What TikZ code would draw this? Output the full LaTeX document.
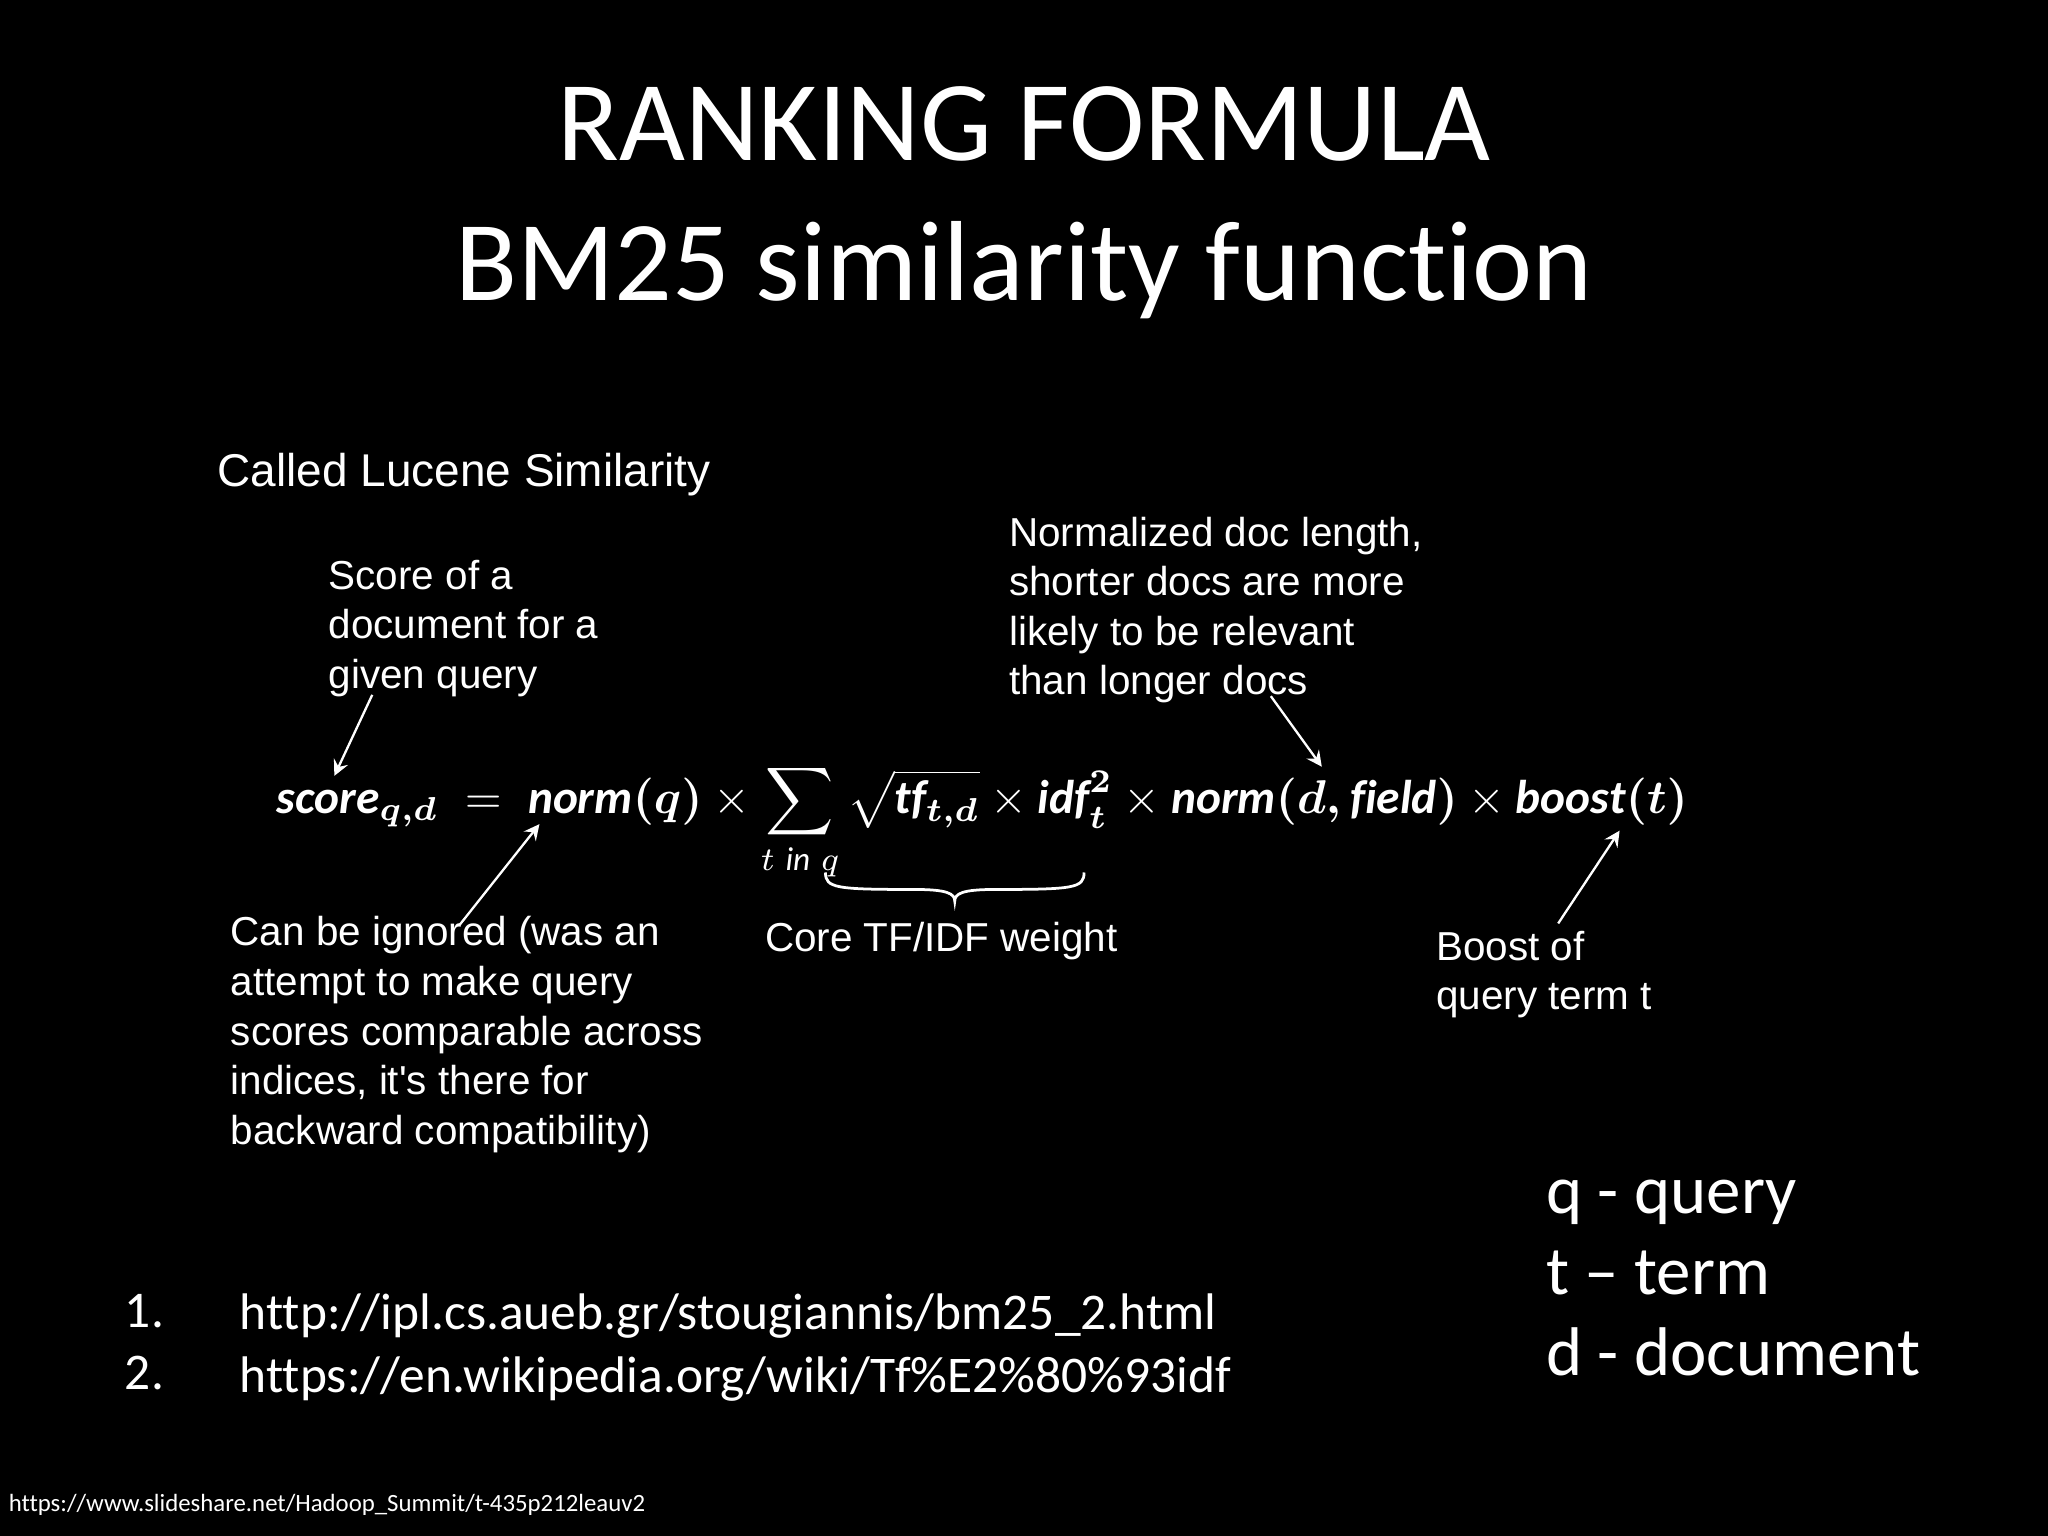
\documentclass[tikz,border=0pt]{standalone}
\usepackage{fontspec}
\usepackage{amsmath}
\usepackage{graphicx}
\setmainfont{Carlito}[Ligatures={NoCommon}]
\newfontfamily\annfont{Liberation Sans}
\begin{document}
\begin{tikzpicture}[x=0.01cm,y=-0.01cm,
  ann/.style={text=white,font=\annfont\fontsize{8.8}{10.8}\selectfont,align=left,anchor=north west,inner sep=0pt},
  arr/.style={draw=white,-stealth,line width=0.5pt},
  txt/.style={anchor=north west,inner sep=0pt,text=white}]
\fill[black] (0,0) rectangle (1568,1176);
\useasboundingbox (0,0) rectangle (1568,1176);
\node[text=white,font=\fontsize{24.8}{30.5}\selectfont,align=center] (title) at (784,155) {RANKING FORMULA\\BM25 similarity function};
\node[ann,font=\annfont\fontsize{10}{12}\selectfont] (called) at (166,346) {Called Lucene Similarity};
\node[ann] (score) at (251,428) {Score of a\\document for a\\given query};
\node[ann] (normd) at (772,395) {Normalized doc length,\\shorter docs are more\\likely to be relevant\\than longer docs};
\node[ann] (ign) at (176,701) {Can be ignored (was an\\attempt to make query\\scores comparable across\\indices, it's there for\\backward compatibility)};
\node[ann] (core) at (585,705) {Core TF/IDF weight};
\node[ann] (boost) at (1099,712) {Boost of\\query term t};
\node[text=white] (f) at (752,630) {\resizebox{10.8cm}{!}{$\displaystyle\boldsymbol{\mathit{score}_{q,d}} \;=\; \boldsymbol{\mathit{norm}(q)}\times\sum_{t\ \mathit{in}\ q}\sqrt{\boldsymbol{\mathit{tf}_{t,d}}}\times \boldsymbol{\mathit{idf}_t^2} \times \boldsymbol{\mathit{norm}(d,\mathit{field})}\times \boldsymbol{\mathit{boost}(t)}$}};
\coordinate (a1s) at (285,532); \coordinate (a1e) at (256,594);
\coordinate (a2s) at (352,708); \coordinate (a2e) at (413,631);
\coordinate (a3s) at (973,533); \coordinate (a3e) at (1012,587);
\coordinate (a4s) at (1193,707); \coordinate (a4e) at (1240,636);
\draw[arr] (a1s) -- (a1e);
\draw[arr] (a2s) -- (a2e);
\draw[arr] (a3s) -- (a3e);
\draw[arr] (a4s) -- (a4e);
\draw[white,line width=0.6pt] (632,668) .. controls (632,680) and (640,681) .. (700,681) .. controls (725,681) and (731,684) .. (731,690) .. controls (731,684) and (737,681) .. (762,681) .. controls (822,681) and (830,680) .. (830,668);
\node[txt,font=\fontsize{15}{17.6}\selectfont,align=left] (legend) at (1183,903) {q - query\\t -- term\\d - document};
\node[txt,font=\fontsize{11.2}{13.6}\selectfont,align=left] (nums) at (95,990) {1.\\2.};
\node[txt,font=\fontsize{11.2}{13.6}\selectfont,align=left] (refs) at (183,990) {http://ipl.cs.aueb.gr/stougiannis/bm25\_2.html\\https://en.wikipedia.org/wiki/Tf\%E2\%80\%93idf};
\node[anchor=west,inner sep=0pt,text=white,font=\fontsize{5.4}{6}\selectfont] (foot) at (6,1152) {https://www.slideshare.net/Hadoop\_Summit/t-435p212leauv2};
\end{tikzpicture}
\end{document}
